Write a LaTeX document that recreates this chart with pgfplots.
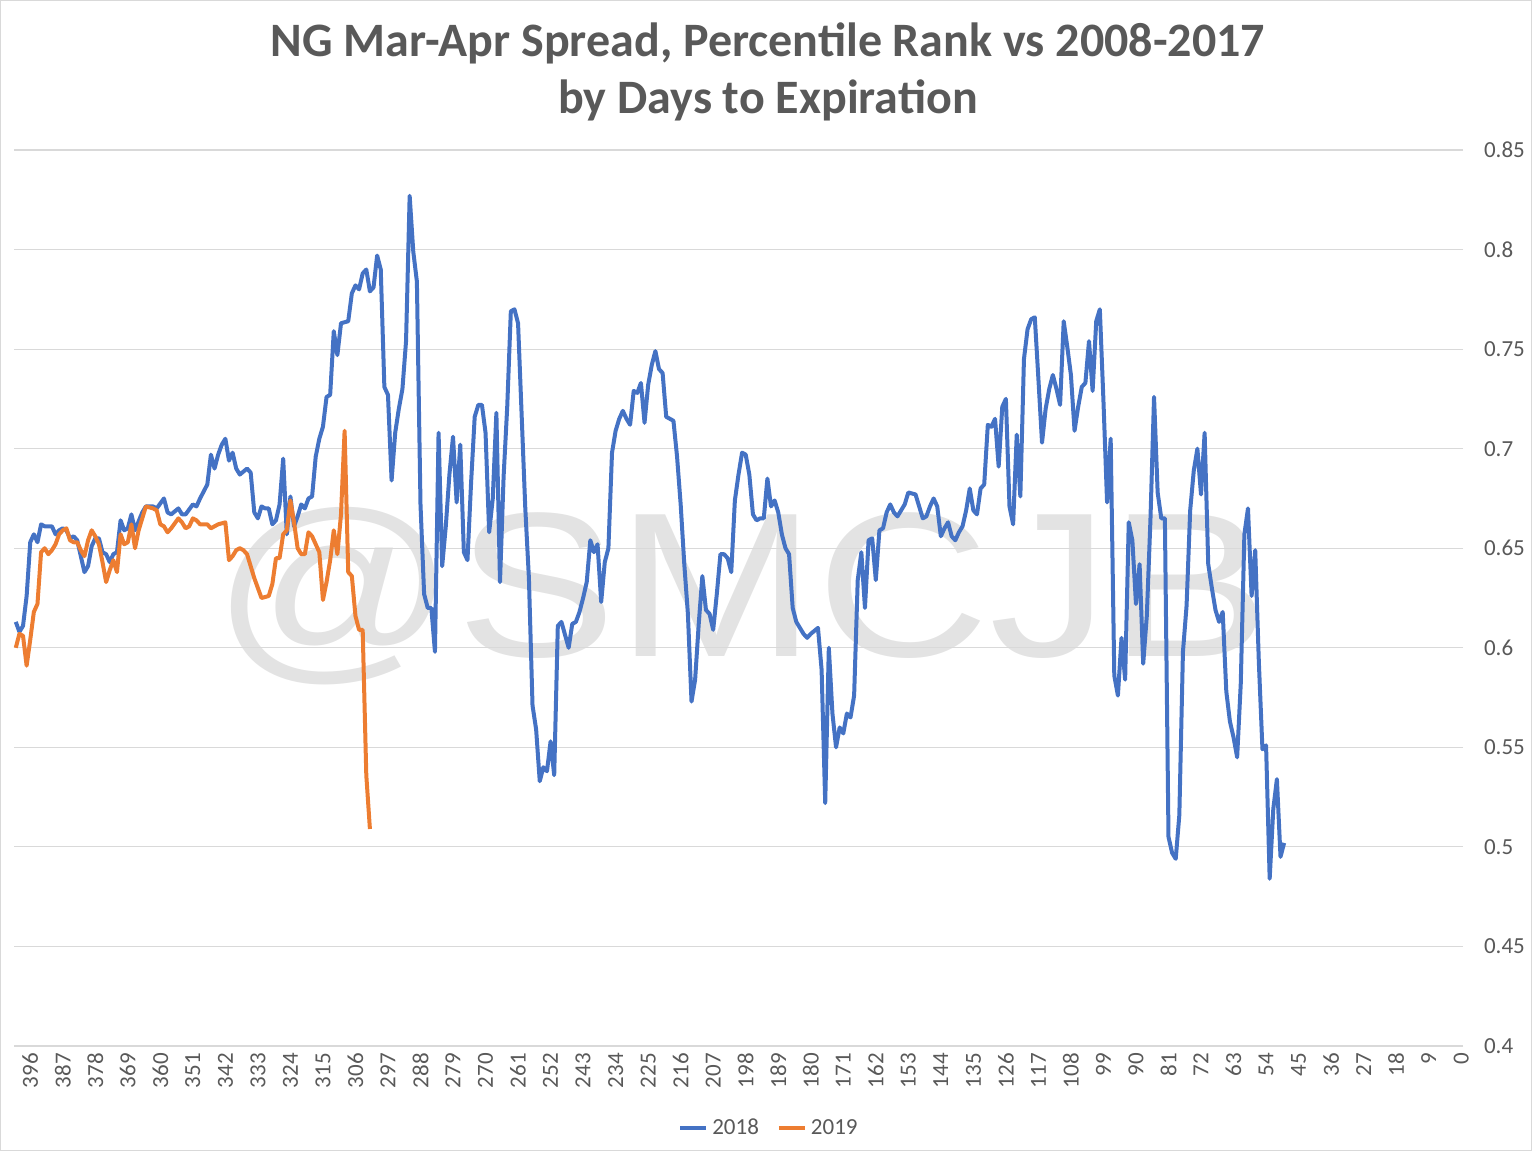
\documentclass[border=0pt]{standalone}
\usepackage{pgfplots}
\pgfplotsset{compat=1.18}
\usepackage{fontspec}
\setmainfont{Carlito}
\newfontfamily\wmfont{Liberation Sans}
\definecolor{s2018}{HTML}{4472C4}
\definecolor{s2019}{HTML}{ED7D31}
\definecolor{gridgray}{HTML}{D9D9D9}
\definecolor{labelgray}{HTML}{595959}
\definecolor{wmgray}{RGB}{227,227,227}
\begin{document}
\begin{tikzpicture}
\useasboundingbox (0,0) rectangle (768pt,576pt);
\draw[gridgray, line width=0.6pt] (0.4pt,0.6pt) rectangle (765.6pt,575.6pt);
\node[anchor=base, text=wmgray, inner sep=0pt, xscale=1.165] at (370.5pt,247.5pt) {\wmfont\fontsize{103}{103}\selectfont @SMCJB};
\node[anchor=base, text=labelgray, inner sep=0pt] at (384pt,547.5pt) {\fontsize{24}{28}\bfseries\selectfont NG Mar-Apr Spread, Percentile Rank vs 2008-2017};
\node[anchor=base, text=labelgray, inner sep=0pt] at (384pt,519pt) {\fontsize{24}{28}\bfseries\selectfont by Days to Expiration};
\begin{axis}[
  at={(7pt,53pt)}, anchor=south west,
  scale only axis, width=724.5pt, height=448pt,
  xmin=-0.5, xmax=400.5, x dir=reverse,
  ymin=0.4, ymax=0.85,
  xtick={0,9,...,396},
  ytick={0.4,0.45,0.5,0.55,0.6,0.65,0.7,0.75,0.8,0.85},
  yticklabels={0.4,0.45,0.5,0.55,0.6,0.65,0.7,0.75,0.8,0.85},
  yticklabel pos=right,
  ymajorgrids, grid style={draw=gridgray, line width=0.6pt},
  axis line style={draw=none},
  major tick length=0pt,
  tick label style={font=\fontsize{11.5}{12}\selectfont, text=labelgray},
  xticklabel style={rotate=90, anchor=east},
  yticklabel style={anchor=west, xshift=7pt},
  /pgf/number format/assume math mode=true,
  legend columns=2,
  legend style={at={(0.5217,-0.0916)}, anchor=center, draw=none, fill=none,
    font=\fontsize{11.5}{12}\selectfont, text=labelgray,
    /tikz/every even column/.append style={column sep=7pt}},
  legend image code/.code={\draw[#1] (0pt,0pt) -- (13pt,0pt);},
  clip=false,
]
\addplot[s2018, line width=2pt, line join=round] coordinates {
(400,0.613)(399,0.608)(398,0.611)(397,0.626)(396,0.653)(395,0.657)(394,0.653)(393,0.662)(392,0.661)(390,0.661)
(389,0.657)(388,0.659)(387,0.660)(386,0.659)(385,0.655)(384,0.656)(383,0.654)(382,0.646)(381,0.638)(380,0.641)
(379,0.651)(378,0.655)(377,0.655)(376,0.648)(375,0.647)(374,0.643)(373,0.647)(372,0.648)(371,0.664)(370,0.659)
(369,0.660)(368,0.667)(367,0.659)(365,0.668)(364,0.671)(362,0.671)(361,0.670)(359,0.675)(358,0.668)(357,0.667)
(355,0.670)(354,0.667)(353,0.667)(351,0.672)(350,0.671)(349,0.675)(347,0.682)(346,0.697)(345,0.690)(344,0.697)
(343,0.702)(342,0.705)(341,0.694)(340,0.698)(339,0.690)(338,0.687)(336,0.690)(335,0.688)(334,0.668)(333,0.665)
(332,0.671)(331,0.670)(330,0.670)(329,0.662)(328,0.664)(327,0.672)(326,0.695)(325,0.657)(324,0.676)(323,0.661)
(322,0.666)(321,0.672)(320,0.670)(319,0.675)(318,0.676)(317,0.696)(316,0.705)(315,0.711)(314,0.726)(313,0.727)
(312,0.759)(311,0.747)(310,0.763)(308,0.764)(307,0.778)(306,0.782)(305,0.780)(304,0.788)(303,0.790)(302,0.779)
(301,0.781)(300,0.797)(299,0.790)(298,0.731)(297,0.727)(296,0.684)(295,0.708)(294,0.720)(293,0.730)(292,0.754)
(291,0.827)(290,0.799)(289,0.784)(288,0.672)(287,0.627)(286,0.620)(285,0.620)(284,0.598)(283,0.708)(282,0.641)
(281,0.661)(280,0.687)(279,0.706)(278,0.673)(277,0.702)(276,0.648)(275,0.644)(274,0.683)(273,0.716)(272,0.722)
(271,0.722)(270,0.708)(269,0.658)(268,0.675)(267,0.718)(266,0.633)(265,0.686)(264,0.721)(263,0.769)(262,0.770)
(261,0.763)(259,0.670)(258,0.635)(257,0.571)(256,0.559)(255,0.533)(254,0.540)(253,0.538)(252,0.553)(251,0.536)
(250,0.611)(249,0.613)(247,0.600)(246,0.612)(245,0.613)(244,0.618)(243,0.625)(242,0.633)(241,0.654)(240,0.648)
(239,0.652)(238,0.623)(237,0.643)(236,0.650)(235,0.698)(234,0.709)(233,0.715)(232,0.719)(231,0.715)(230,0.712)
(229,0.729)(228,0.728)(227,0.733)(226,0.713)(225,0.732)(224,0.742)(223,0.749)(222,0.740)(221,0.738)(220,0.716)
(219,0.715)(218,0.714)(217,0.696)(216,0.672)(215,0.642)(214,0.617)(213,0.573)(212,0.584)(211,0.612)(210,0.636)
(209,0.619)(208,0.617)(207,0.609)(206,0.627)(205,0.647)(204,0.647)(203,0.645)(202,0.638)(201,0.674)(200,0.687)
(199,0.698)(198,0.697)(197,0.687)(196,0.667)(195,0.664)(194,0.665)(193,0.665)(192,0.685)(191,0.671)(190,0.674)
(189,0.668)(188,0.657)(187,0.650)(186,0.647)(185,0.620)(184,0.613)(182,0.607)(181,0.605)(180,0.607)(178,0.610)
(177,0.589)(176,0.522)(175,0.600)(174,0.567)(173,0.550)(172,0.560)(171,0.557)(170,0.567)(169,0.565)(168,0.576)
(167,0.634)(166,0.648)(165,0.620)(164,0.654)(163,0.655)(162,0.634)(161,0.659)(160,0.660)(159,0.668)(158,0.672)
(157,0.668)(156,0.666)(155,0.669)(154,0.672)(153,0.678)(151,0.677)(150,0.671)(149,0.665)(148,0.666)(147,0.671)
(146,0.675)(145,0.671)(144,0.656)(143,0.660)(142,0.663)(141,0.656)(140,0.654)(139,0.658)(138,0.661)(137,0.669)
(136,0.680)(135,0.669)(134,0.667)(133,0.680)(132,0.682)(131,0.712)(130,0.711)(129,0.715)(128,0.691)(127,0.721)
(126,0.725)(125,0.671)(124,0.662)(123,0.707)(122,0.676)(121,0.745)(120,0.760)(119,0.765)(118,0.766)(117,0.735)
(116,0.703)(115,0.720)(114,0.730)(113,0.737)(112,0.730)(111,0.722)(110,0.764)(109,0.751)(108,0.737)(107,0.709)
(106,0.721)(105,0.731)(104,0.733)(103,0.754)(102,0.729)(101,0.764)(100,0.770)(99,0.724)(98,0.673)(97,0.705)
(96,0.586)(95,0.576)(94,0.605)(93,0.584)(92,0.663)(91,0.654)(90,0.622)(89,0.642)(88,0.592)(87,0.616)
(86,0.664)(85,0.726)(84,0.678)(83,0.665)(82,0.665)(81,0.505)(80,0.497)(79,0.494)(78,0.516)(77,0.598)
(76,0.621)(75,0.669)(74,0.689)(73,0.700)(72,0.677)(71,0.708)(70,0.642)(69,0.630)(68,0.619)(67,0.613)
(66,0.618)(65,0.578)(64,0.563)(63,0.555)(62,0.545)(61,0.582)(60,0.657)(59,0.670)(58,0.626)(57,0.649)
(56,0.593)(55,0.549)(54,0.551)(53,0.484)(52,0.519)(51,0.534)(50,0.495)(49,0.502)
};
\addlegendentry{2018}
\addplot[s2019, line width=2pt, line join=round] coordinates {
(400,0.600)(399,0.607)(398,0.606)(397,0.591)(396,0.604)(395,0.618)(394,0.622)(393,0.648)(392,0.650)(391,0.647)
(390,0.649)(389,0.652)(388,0.657)(387,0.659)(386,0.660)(385,0.654)(384,0.653)(383,0.653)(382,0.649)(381,0.646)
(380,0.654)(379,0.659)(378,0.656)(377,0.652)(376,0.643)(375,0.633)(374,0.639)(373,0.644)(372,0.638)(371,0.657)
(370,0.652)(369,0.653)(368,0.662)(367,0.650)(366,0.659)(365,0.665)(364,0.671)(362,0.670)(361,0.669)(360,0.662)
(359,0.661)(358,0.658)(357,0.660)(355,0.665)(354,0.663)(353,0.660)(352,0.661)(351,0.665)(350,0.664)(349,0.662)
(347,0.662)(346,0.660)(344,0.662)(342,0.663)(341,0.644)(340,0.646)(339,0.649)(338,0.650)(337,0.649)(336,0.647)
(334,0.635)(333,0.630)(332,0.625)(330,0.626)(329,0.632)(328,0.645)(327,0.645)(326,0.657)(325,0.659)(324,0.674)
(323,0.663)(322,0.650)(321,0.647)(320,0.647)(319,0.658)(318,0.656)(317,0.652)(316,0.648)(315,0.624)(314,0.633)
(313,0.644)(312,0.659)(311,0.647)(310,0.667)(309,0.709)(308,0.638)(307,0.636)(306,0.616)(305,0.609)(304,0.609)
(303,0.536)(302,0.509)
};
\addlegendentry{2019}
\end{axis}
\end{tikzpicture}
\end{document}
